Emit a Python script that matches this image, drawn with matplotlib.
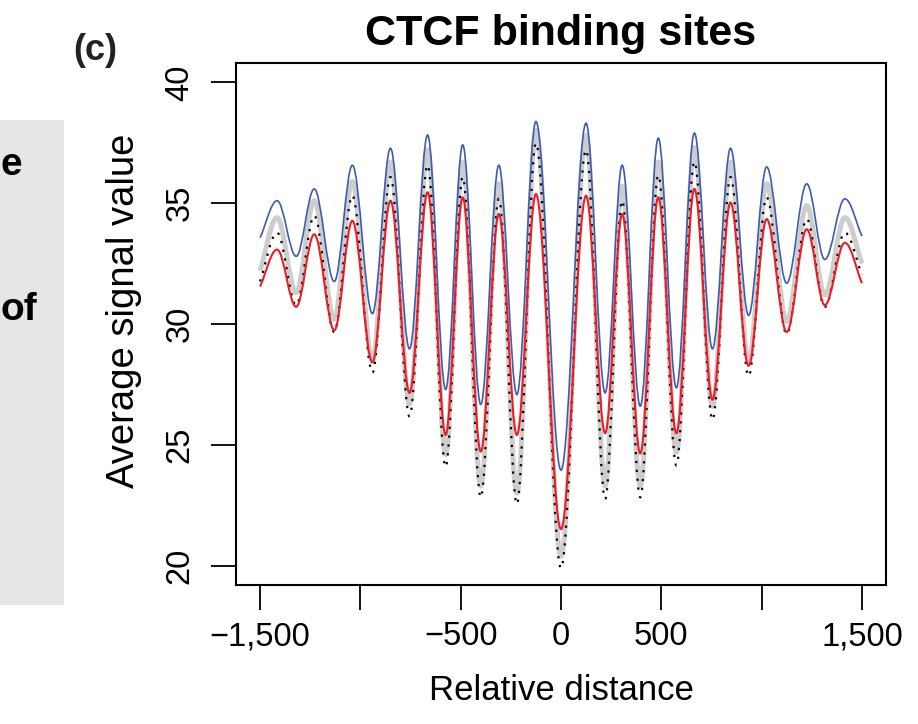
import matplotlib
matplotlib.use('Agg')
import matplotlib.pyplot as plt
from matplotlib.path import Path
from matplotlib.patches import PathPatch, Rectangle

plt.rcParams['font.family'] = ['Liberation Sans', 'DejaVu Sans']

# turning points of the profiles (relative distance)
distance = [-1500, -1415, -1320, -1230, -1130, -1040, -940, -850, -755, -665,
            -575, -490, -400, -310, -220, -125, 0, 125, 220, 305, 395, 485,
            575, 665, 755, 845, 935, 1025, 1125, 1225, 1315, 1415, 1500]

blue = [33.57, 35.10, 32.80, 35.59, 31.76, 36.57, 30.43, 37.27, 28.97, 37.82,
        27.29, 37.41, 26.67, 36.57, 27.08, 38.38, 23.95, 38.31, 27.15, 36.57,
        26.60, 37.69, 27.36, 37.90, 28.97, 37.27, 30.36, 36.50, 31.69, 35.80,
        32.67, 35.18, 33.64]
gray = [32.2, 34.4, 31.3, 35.1, 30.2, 35.9, 28.5, 36.7, 26.7, 37.2,
        24.6, 36.7, 23.3, 35.8, 23.0, 38.0, 20.4, 37.8, 23.3, 35.7,
        23.3, 36.7, 24.7, 37.3, 26.6, 36.7, 28.4, 35.8, 30.1, 34.9,
        31.2, 34.4, 32.5]
black = [31.76, 33.78, 30.78, 34.48, 29.67, 35.31, 27.99, 36.08, 26.18, 36.57,
         24.09, 36.08, 22.83, 35.18, 22.55, 37.48, 19.90, 37.20, 22.76, 35.10,
         22.83, 36.15, 24.15, 36.71, 26.04, 36.08, 27.85, 35.24, 29.59, 34.34,
         30.71, 33.78, 32.04]
red = [31.55, 33.08, 30.71, 33.71, 29.74, 34.27, 28.41, 35.10, 27.15, 35.45,
       25.41, 35.24, 24.72, 34.55, 25.41, 35.38, 21.51, 35.31, 25.48, 34.55,
       24.64, 35.24, 25.48, 35.59, 26.87, 35.03, 28.27, 34.34, 29.67, 33.92,
       30.78, 33.36, 31.69]

x_ticks = [-1500, -1000, -500, 0, 500, 1000, 1500]
x_ticklabels = ['\u22121,500', '', '\u2212500', '0', '500', '', '1,500']
y_ticks = [20, 25, 30, 35, 40]

W, H = 918, 724


def smooth_path(xs, ys, k=0.36):
    """Bezier path through turning points (flat tangent at each peak/trough)"""
    verts = [(xs[0], ys[0])]
    codes = [Path.MOVETO]
    n = len(xs)
    for i in range(n - 1):
        x0, y0, x1, y1 = xs[i], ys[i], xs[i + 1], ys[i + 1]
        dx, dy = x1 - x0, y1 - y0
        s0 = k * dy if i == 0 else 0        # first/last points are not extrema
        s1 = k * dy if i == n - 2 else 0
        verts += [(x0 + k * dx, y0 + s0), (x1 - k * dx, y1 - s1), (x1, y1)]
        codes += [Path.CURVE4] * 3
    return Path(verts, codes)


fig = plt.figure(figsize=(W / 100, H / 100), dpi=100)

# neighbouring panel on the left, only its edge is in the picture
fig.patches.append(Rectangle((0, 1 - 605 / H), 64 / W, (605 - 120) / H,
                             transform=fig.transFigure, facecolor='#e6e6e6',
                             edgecolor='none'))
fig.text(1 / W, 1 - 165 / H, 'e', ha='left', va='center', fontsize=28,
         fontweight='bold')
fig.text(1 / W, 1 - 310 / H, 'of', ha='left', va='center', fontsize=28,
         fontweight='bold')
fig.text(95 / W, 1 - 50 / H, '(c)', ha='center', va='center', fontsize=26,
         fontweight='bold', color='#222222')

ax = fig.add_axes([236 / W, 1 - 585 / H, 650 / W, 522 / H])

ax.add_patch(PathPatch(smooth_path(distance, gray), fill=False,
                       edgecolor='#cdcdcd', lw=3.6))
ax.add_patch(PathPatch(smooth_path(distance, blue), fill=False,
                       edgecolor='#3d5bb5', lw=1.2))
ax.add_patch(PathPatch(smooth_path(distance, black), fill=False,
                       edgecolor='black', lw=1.6, ls=(0, (1, 3))))
ax.add_patch(PathPatch(smooth_path(distance, red), fill=False,
                       edgecolor='#ee1c24', lw=1.5))

ax.set_xlim(-1620, 1620)
ax.set_ylim(19.2, 40.8)

ax.set_xticks(x_ticks)
ax.set_xticklabels(x_ticklabels)
ax.set_yticks(y_ticks)
ax.tick_params(axis='both', length=18, width=1.3, labelsize=23.5, direction='out')
ax.tick_params(axis='x', pad=8)
ax.tick_params(axis='y', pad=11, labelrotation=90)
for lab in ax.get_yticklabels():
    lab.set_va('center')

for sp in ax.spines.values():
    sp.set_linewidth(1.5)

ax.set_xlabel('Relative distance', fontsize=25)
ax.xaxis.set_label_coords(0.5, -0.17)
ax.set_ylabel('Average signal value', fontsize=27.5)
ax.yaxis.set_label_coords(-0.145, 0.525)
ax.set_title('CTCF binding sites', fontsize=31, fontweight='bold', pad=13)

fig.savefig('out.png', dpi=100)
